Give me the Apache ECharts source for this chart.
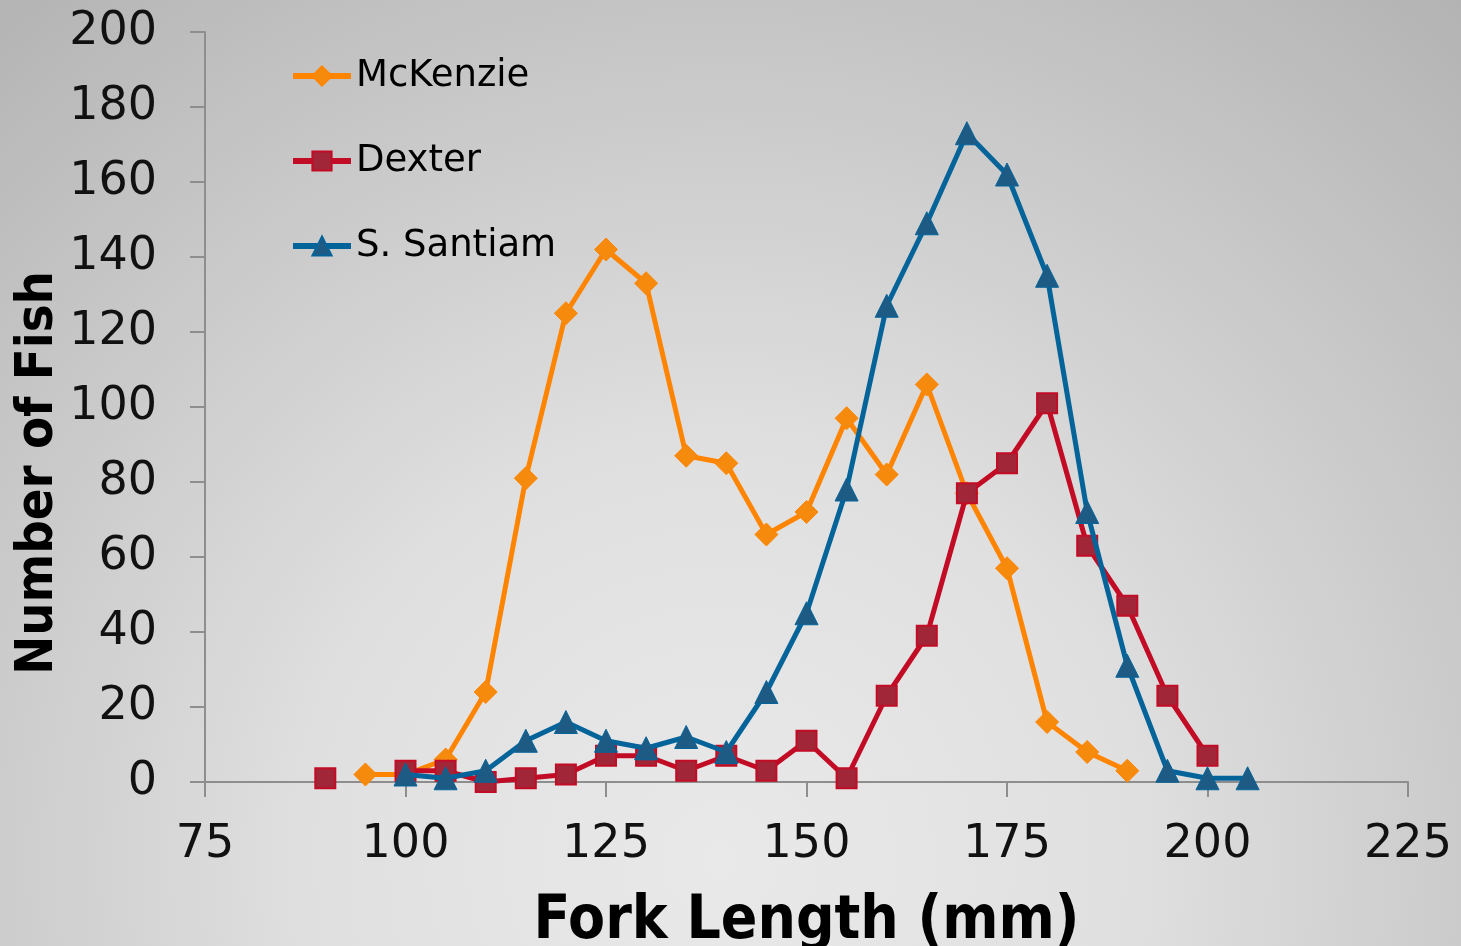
<!DOCTYPE html>
<html>
<head>
<meta charset="utf-8">
<script src="https://cdn.jsdelivr.net/npm/echarts@6/dist/echarts.min.js"></script>
<style>
html,body{margin:0;padding:0;width:1461px;height:946px;overflow:hidden;}
#chart{width:1461px;height:946px;}
</style>
</head>
<body>
<div id="chart"></div>
<script>
// ---- data ----
const xTicks = [75, 100, 125, 150, 175, 200, 225];
const yTicks = [0, 20, 40, 60, 80, 100, 120, 140, 160, 180, 200];

const mckenzieX = [95, 100, 105, 110, 115, 120, 125, 130, 135, 140, 145, 150, 155, 160, 165, 170, 175, 180, 185, 190];
const mckenzieY = [2, 2, 6, 24, 81, 125, 142, 133, 87, 85, 66, 72, 97, 82, 106, 77, 57, 16, 8, 3];

// 95 mm has no Dexter value (gap in the line)
const dexterX = [90, 95, 100, 105, 110, 115, 120, 125, 130, 135, 140, 145, 150, 155, 160, 165, 170, 175, 180, 185, 190, 195, 200];
const dexterY = [1, null, 3, 3, 0, 1, 2, 7, 7, 3, 7, 3, 11, 1, 23, 39, 77, 85, 101, 63, 47, 23, 7];

const santiamX = [100, 105, 110, 115, 120, 125, 130, 135, 140, 145, 150, 155, 160, 165, 170, 175, 180, 185, 190, 195, 200, 205];
const santiamY = [2, 1, 3, 11, 16, 11, 9, 12, 8, 24, 45, 78, 127, 149, 173, 162, 135, 72, 31, 3, 1, 1];

const seriesNames = ['McKenzie', 'Dexter', 'S. Santiam'];
const xTitle = 'Fork Length (mm)';
const yTitle = 'Number of Fish';

function pairs(xs, ys) { return xs.map((x, i) => [x, ys[i] === null ? '-' : ys[i]]); }

const chart = echarts.init(document.getElementById('chart'), null, {renderer: 'canvas'});
const axisColor = '#8e8e8e';
const labelFont = {fontFamily: 'DejaVu Sans, Verdana, sans-serif', fontSize: 46, color: '#111'};

chart.setOption({
  animation: false,
  graphic: [
    {
      type: 'rect', z: -10, silent: true,
      shape: {x: 0, y: 0, width: 1461, height: 946},
      style: {
        fill: {
          type: 'radial', x: 720, y: 860, r: 1150, global: true,
          colorStops: [
            {offset: 0, color: '#e9e9e9'},
            {offset: 0.35, color: '#e0e0e0'},
            {offset: 0.75, color: '#c4c4c4'},
            {offset: 1, color: '#b2b2b2'}
          ]
        }
      }
    },
    {
      type: 'text', z: 10,
      x: 38, y: 473, rotation: Math.PI / 2,
      style: {
        text: yTitle, fill: '#000',
        font: 'bold 52px "DejaVu Sans Condensed", "DejaVu Sans", sans-serif',
        textAlign: 'center', textVerticalAlign: 'middle'
      }
    }
  ],
  grid: {left: 205, right: 53, top: 32, bottom: 164, containLabel: false, outerBoundsMode: 'none'},
  legend: {
    orient: 'vertical', left: 285, top: 50,
    itemWidth: 58, itemHeight: 24, itemGap: 43,
    lineStyle: {width: 6},
    textStyle: {fontFamily: 'DejaVu Sans, Verdana, sans-serif', fontSize: 37, color: '#000', lineHeight: 42},
    data: seriesNames
  },
  xAxis: {
    type: 'value', min: 75, max: 225, interval: 25,
    name: xTitle, nameLocation: 'middle', nameGap: 110,
    nameTextStyle: {fontFamily: '"DejaVu Sans Condensed", "DejaVu Sans", sans-serif', fontWeight: 'bold', fontSize: 60, color: '#000'},
    axisLine: {show: true, lineStyle: {color: axisColor, width: 2}},
    axisTick: {show: true, length: 15, lineStyle: {color: axisColor, width: 2}},
    axisLabel: Object.assign({margin: 40}, labelFont),
    splitLine: {show: false}
  },
  yAxis: {
    type: 'value', min: 0, max: 200, interval: 20,
    axisLine: {show: true, lineStyle: {color: axisColor, width: 2}},
    axisTick: {show: true, length: 15, lineStyle: {color: axisColor, width: 2}},
    axisLabel: Object.assign({margin: 48}, labelFont),
    splitLine: {show: false}
  },
  series: [
    {
      name: seriesNames[0], type: 'line', data: pairs(mckenzieX, mckenzieY),
      symbol: 'diamond', symbolSize: 23, z: 3,
      lineStyle: {color: '#ff8500', width: 5},
      itemStyle: {color: '#f58a0c', borderColor: '#ff8500', borderWidth: 1}
    },
    {
      name: seriesNames[1], type: 'line', data: pairs(dexterX, dexterY),
      symbol: 'rect', symbolSize: 20, z: 4, connectNulls: false,
      lineStyle: {color: '#c20c26', width: 5},
      itemStyle: {color: '#a02638', borderColor: '#c20c26', borderWidth: 2}
    },
    {
      name: seriesNames[2], type: 'line', data: pairs(santiamX, santiamY),
      symbol: 'triangle', symbolSize: 23, z: 5,
      lineStyle: {color: '#04649a', width: 5},
      itemStyle: {color: '#1e5b84', borderColor: '#04649a', borderWidth: 1}
    }
  ]
});
</script>
</body>
</html>
